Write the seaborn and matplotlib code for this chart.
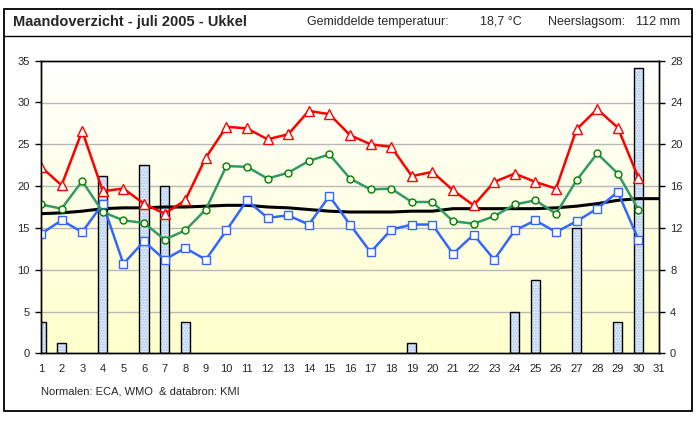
import numpy as np
import matplotlib
matplotlib.use('Agg')
import matplotlib.pyplot as plt
from matplotlib.colors import LinearSegmentedColormap
from matplotlib.patches import Rectangle
from matplotlib.lines import Line2D
import seaborn as sns

# daily values, juli 2005 Ukkel
days = list(range(1, 31))
tmax = [22.3, 20.1, 26.6, 19.4, 19.7, 17.9, 16.7, 18.3, 23.4, 27.1,
        26.9, 25.6, 26.2, 29.0, 28.6, 26.1, 25.0, 24.7, 21.2, 21.7,
        19.5, 17.7, 20.5, 21.5, 20.5, 19.7, 26.8, 29.2, 27.0, 21.0]
tavg = [17.8, 17.3, 20.6, 16.9, 15.9, 15.6, 13.6, 14.7, 17.2, 22.4,
        22.3, 20.9, 21.6, 23.0, 23.8, 20.9, 19.6, 19.7, 18.1, 18.1,
        15.8, 15.5, 16.4, 17.8, 18.3, 16.7, 20.7, 23.9, 21.5, 17.2]
tmin = [14.3, 15.9, 14.5, 17.9, 10.7, 13.4, 11.2, 12.6, 11.2, 14.7,
        18.3, 16.2, 16.5, 15.4, 18.8, 15.4, 12.1, 14.8, 15.4, 15.4,
        11.9, 14.2, 11.2, 14.7, 15.9, 14.5, 15.8, 17.3, 19.3, 13.6]
# normal mean temperature (whole month incl. day 31)
norm_days = list(range(1, 32))
tnorm = [16.7, 16.8, 17.0, 17.3, 17.4, 17.4, 17.5, 17.5, 17.6, 17.7,
         17.7, 17.5, 17.4, 17.2, 17.0, 16.9, 16.9, 16.9, 17.0, 17.0,
         17.3, 17.3, 17.3, 17.3, 17.3, 17.4, 17.6, 17.9, 18.3, 18.5, 18.5]
# precipitation (mm)
rain_days = [1, 2, 4, 6, 7, 8, 19, 24, 25, 27, 29, 30]
rain_mm = [3, 1, 17, 18, 16, 3, 1, 4, 7, 12, 3, 27.3]

W, H = 698, 421
sns.set_style('white')
plt.rcParams['font.family'] = ['Liberation Sans', 'DejaVu Sans']

fig = plt.figure(figsize=(W / 100, H / 100), dpi=100)
ax = fig.add_axes([41 / W, 1 - 353.3 / H, 618 / W, 292.6 / H])
ax2 = ax.twinx()

# background gradient white -> pale yellow
grad = np.linspace(0, 1, 256).reshape(-1, 1)
cmap = LinearSegmentedColormap.from_list('bg', ['#ffffff', '#ffffcc'])
ax.imshow(grad, cmap=cmap, extent=[0, 1, 0, 1], transform=ax.transAxes,
          aspect='auto', zorder=0)
for v in [4, 8, 12, 16, 20, 24]:
    ax.axhline(v, color='#b8b8b8', lw=1, zorder=1)

# rain bars
sns.barplot(x=rain_days, y=rain_mm, native_scale=True, width=0.45,
            color='#dfebfa', saturation=1, edgecolor='#a8c6ee', hatch='......',
            linewidth=0, ax=ax, zorder=2)
for p in list(ax.patches):
    ax.add_patch(Rectangle(p.get_xy(), p.get_width(), p.get_height(),
                           fill=False, edgecolor='black', lw=1, zorder=3))

# temperatures
sns.lineplot(x=norm_days, y=tnorm, ax=ax2, color='black', linewidth=2.2)
sns.lineplot(x=days, y=tmin, ax=ax2, color='#3366ff', linewidth=1.8,
             marker='s', markersize=6, markerfacecolor='white',
             markeredgecolor='#3366ff', markeredgewidth=1)
sns.lineplot(x=days, y=tavg, ax=ax2, color='#339966', linewidth=1.8,
             marker='o', markersize=5, markerfacecolor='#ffffee',
             markeredgecolor='#008000', markeredgewidth=1)
sns.lineplot(x=days, y=tmax, ax=ax2, color='#ff0000', linewidth=1.8,
             marker='^', markersize=7, markerfacecolor='white',
             markeredgecolor='#ff0000', markeredgewidth=1)

ax.set_xlim(1, 31)
ax.set_ylim(0, 28)
ax2.set_ylim(0, 35)
ax.set_xticks(range(1, 32))
ax.set_yticks(range(0, 29, 4))
ax2.set_yticks(range(0, 36, 5))
ax.yaxis.set_ticks_position('right')
ax2.yaxis.set_ticks_position('left')
for a in (ax, ax2):
    a.set_xlabel('')
    a.set_ylabel('')
    a.tick_params(direction='out', length=4, width=1, color='black',
                  labelsize=8, pad=4)
    for s in a.spines.values():
        s.set_color('black')
        s.set_linewidth(1)

# frame and header
fig.add_artist(Rectangle((4 / W, 1 - 411 / H), 688 / W, 402 / H,
                         transform=fig.transFigure, fill=False,
                         edgecolor='black', lw=1.3))
fig.add_artist(Line2D([4 / W, 692 / W], [1 - 36 / H] * 2,
                      transform=fig.transFigure, color='black', lw=1))
fig.text(13 / W, 1 - 22 / H, 'Maandoverzicht - juli 2005 - Ukkel',
         fontsize=10.5, fontweight='bold', va='center')
fig.text(307 / W, 1 - 22 / H, 'Gemiddelde temperatuur:', fontsize=9, va='center')
fig.text(480 / W, 1 - 22 / H, '18,7 °C', fontsize=9, va='center')
fig.text(548 / W, 1 - 22 / H, 'Neerslagsom:', fontsize=9, va='center')
fig.text(636 / W, 1 - 22 / H, '112 mm', fontsize=9, va='center')
fig.text(41 / W, 1 - 391 / H, 'Normalen: ECA, WMO  & databron: KMI',
         fontsize=8, va='center')

fig.savefig('out.png', dpi=100)
